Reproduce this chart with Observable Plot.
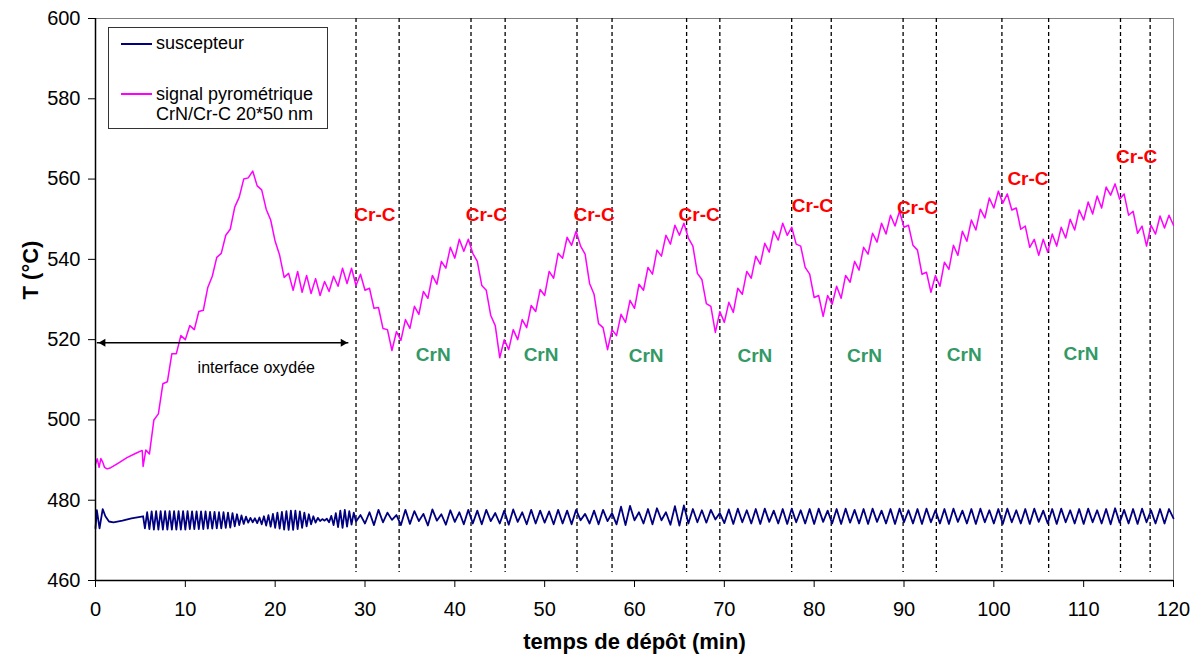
<!DOCTYPE html>
<html><head><meta charset="utf-8">
<script src="https://cdn.jsdelivr.net/npm/d3@7"></script>
<script src="https://cdn.jsdelivr.net/npm/@observablehq/plot@0.6"></script>
<style>
body{margin:0;background:#fff;font-family:"Liberation Sans",Arial,sans-serif;}
#wrap{position:relative;width:1197px;height:666px;}
#legend{position:absolute;left:108px;top:27px;width:220px;height:102px;border:1px solid #333;background:#fff;box-sizing:border-box;font-size:18px;color:#000;}
#legend .sw{position:absolute;left:12px;width:31px;height:2px;}
#legend .tx{position:absolute;left:47px;line-height:20px;white-space:nowrap;}
</style></head><body>
<div id="wrap">
  <div id="legend">
    <div class="sw" style="top:15px;background:#000080"></div>
    <div class="tx" style="top:5px">suscepteur</div>
    <div class="sw" style="top:65px;background:#ff00ff"></div>
    <div class="tx" style="top:56px">signal pyrométrique<br>CrN/Cr-C 20*50 nm</div>
  </div>
</div>
<script>
// ---- axes ----
const xTicks = [0,10,20,30,40,50,60,70,80,90,100,110,120];
const yTicks = [460,480,500,520,540,560,580,600];

// ---- pyrometer signal (°C) ----
const pyroStartT = [0,0.2,0.4,0.6,0.8,1.0,1.3,1.7,2.5,3.5,4.5,5.2,5.3,5.6];
const pyroStartV = [489,490.3,488.2,490.4,489.5,488.2,487.8,488.1,489.2,490.6,491.7,492.4,488.4,492.5];
// troughs at t = 6, 7, ..., 120
const pyroLo = [491.5,501.5,509.5,516.5,520,522.5,527.3,535.8,541.5,547.5,555.5,560.3,558.3,552.5,544.5,535.5,
  532.3,531.8,531.5,531,532,533.3,534,533.5,532.3,527.8,522.8,517.3,519.8,522.8,526.3,530.3,533.8,537.8,540.3,542,
  541.5,533.5,526,515.5,517.5,520,523,527,531,535.3,540.3,543.5,543.3,534,524,517.5,521,524.3,527.8,532.3,536.3,
  540.8,543.8,546,545.3,536.5,529,521.8,524.3,526.8,531.3,535.3,538.8,541.8,544.8,546,543.8,538,530.5,525.8,528.8,
  530.3,534.3,537.3,541.3,544.3,546.3,548.3,548,543.5,536.3,531.8,533.3,537.5,541,544.5,547.3,550.3,552.8,554,
  552.3,547.5,543,541,541.8,543.3,545.3,547.3,549.8,551.3,552.8,556,555,551,546.5,543.3,546.3,547.8,548.5];
// peaks at t = 6.5, 7.5, ..., 119.5
const pyroHi = [500,509,516.5,521,523.5,527,533,540.5,546,553,560,562,557.3,549.8,541,536.5,537,536,535.2,534.5,
  535.8,537.8,537.8,536.3,532.8,528,522.5,522,525,528.3,532,536,539.5,543,545,545,539.5,532.3,523.5,520,522.5,525,
  528.5,532.5,537,541.5,545.5,547,541.3,531.3,523,522.5,526.3,529.8,533.8,538,542.3,546,548.5,549,543.3,535,528.3,
  527,529.3,532.8,537,540.8,544,547,549,548,543.3,536.3,531,531,533.3,536,539.5,543,546.5,549,551,552,548.5,542.3,
  536.8,536,539.3,543.5,547,549.8,552.5,555.3,557,556.3,552.8,548.3,545,545,546.3,548,550,552.3,554.3,555.8,558,
  558.8,556.3,552,548.3,548.5,550.8,551];

// ---- susceptor (°C) ----
const suscStartT = [0,0.15,0.45,0.8,1.1,1.5,2,3,4,5.3];
const suscStartV = [473,477.5,473,477.8,476,474.7,474.5,474.9,475.5,476];
// troughs at t = 5.5, 6.0, ..., 28.5
const suscEarlyLo = [473,472.8,472.7,472.7,472.7,472.7,472.7,472.7,472.7,472.7,472.8,472.8,472.8,472.8,472.9,472.9,
  473,473,473.1,473.2,473.5,473.8,474.1,474.4,474.5,474.3,474,473.7,473.4,473.1,472.9,472.7,472.6,472.6,472.8,473.1,
  473.5,474,474.4,474.8,474.9,474.5,473.8,473.3,473.1,473.4,473.9];
// peaks at t = 5.75, 6.25, ..., 28.75
const suscEarlyHi = [477,477.2,477.3,477.3,477.3,477.3,477.3,477.3,477.3,477.3,477.2,477.2,477.2,477.2,477.1,477.1,
  477,477,476.9,476.8,476.5,476.2,475.9,475.6,475.5,475.7,476,476.3,476.6,476.9,477.1,477.3,477.4,477.4,477.2,476.9,
  476.5,476,475.6,475.3,475.4,476.1,476.8,477.4,477.6,477.3,476.9];
// troughs at t = 29, 30, ..., 120
const suscLateLo = [474.7,474.2,473.8,474.5,475.1,473.8,474.1,474.8,473.7,474.9,473.9,474.6,474,474.2,474,474.8,
  474.2,473.9,474.6,474,474.2,474.4,474,474.2,474,475,474.2,474,474.8,474,473.8,475,474.2,474,475,473.9,473.7,474.2,
  474.5,474.4,475.2,474.3,474.1,474.5,474.2,474.1,474.6,474.2,474.1,474.5,474.2,474.1,474.6,474.2,474.1,474.4,474.2,
  474.1,474.6,474.2,474.1,474.5,474.2,474.1,474.5,474.2,474.1,474.6,474.2,474.1,474.5,474.2,474.1,474.5,474.2,474.1,
  474.6,474.2,474.1,474.5,474.2,474.1,474.5,474.2,474,474.4,474.2,474.1,474.5,474.2,474.2,475.5];
// peaks at t = 29.5, 30.5, ..., 119.5
const suscLateHi = [476.3,477,477.6,476.9,476.3,477.6,477.3,476.6,477.7,476.5,477.5,477,477.6,477.4,477.6,476.8,
  477.4,477.7,477,477.6,477.4,477.2,477.6,477.4,477.6,476.6,477.4,477.6,476.8,478.4,478.6,477,477.8,478,477,478.5,
  478.7,477.8,477.5,477.6,476.8,477.7,477.9,477.5,477.8,477.9,477.4,477.8,477.9,477.5,477.8,477.9,477.4,477.8,477.9,
  477.6,477.8,477.9,477.4,477.8,477.9,477.5,477.8,477.9,477.5,477.8,477.9,477.4,477.8,477.9,477.5,477.8,477.9,477.5,
  477.8,477.9,477.4,477.8,477.9,477.5,477.8,477.9,477.5,477.8,478,477.6,477.8,477.9,477.5,477.8,477.8];

// ---- layer boundaries and annotations ----
const dividers = [29.0,33.8,41.8,45.6,53.6,57.5,65.8,69.5,77.5,81.9,89.9,93.6,100.9,106.1,114.1,117.4];
const dashTop = 600, dashBottom = 462;
const crcLabel = "Cr-C";
const crcT = [31.1,43.5,55.5,67.2,79.8,91.5,103.8,115.9];
const crcTemp = [551,551,551,551,553.3,552.8,560.1,565.6];
const crnLabel = "CrN";
const crnT = [37.6,49.6,61.3,73.4,85.6,96.7,109.7];
const crnTemp = [516.2,516.2,515.9,515.9,515.9,516.2,516.5];
const arrowStart = 0.2, arrowEnd = 28.2, arrowTemp = 519.2;
const arrowLabel = "interface oxydée", arrowLabelT = 17.9, arrowLabelTemp = 512.9;
const xTitle = "temps de dépôt (min)", yTitle = "T (°C)";

// ---- build tables ----
const pyroRows = pyroStartT.map((t,i)=>({t, v: pyroStartV[i]}));
pyroLo.forEach((v,i)=>{ pyroRows.push({t: 6+i, v}); if (i < pyroHi.length) pyroRows.push({t: 6.5+i, v: pyroHi[i]}); });
const suscRows = suscStartT.map((t,i)=>({t, v: suscStartV[i]}));
suscEarlyLo.forEach((v,i)=>{ suscRows.push({t: 5.5+0.5*i, v}); suscRows.push({t: 5.75+0.5*i, v: suscEarlyHi[i]}); });
suscLateLo.forEach((v,i)=>{ suscRows.push({t: 29+i, v}); if (i < suscLateHi.length) suscRows.push({t: 29.5+i, v: suscLateHi[i]}); });
const crc = crcT.map((t,i)=>({t, v: crcTemp[i]}));
const crn = crnT.map((t,i)=>({t, v: crnTemp[i]}));

const chart = Plot.plot({
  width: 1197, height: 666,
  marginLeft: 95, marginRight: 24, marginTop: 18, marginBottom: 86,
  style: {fontFamily: "'Liberation Sans', Arial, sans-serif", fontSize: "20px", color: "#000", background: "#fff", overflow: "visible"},
  x: {domain: [0,120]},
  y: {domain: [460,600]},
  marks: [
    Plot.frame({stroke: "#808080"}),
    Plot.axisX({ticks: xTicks, tickSize: 7, tickPadding: 14, label: null, fontSize: 20}),
    Plot.axisY({ticks: yTicks, tickSize: 7, tickPadding: 8, label: null, fontSize: 20}),
    Plot.ruleX(dividers, {y1: dashTop, y2: dashBottom, stroke: "#000", strokeWidth: 1.3, strokeDasharray: "4,3"}),
    Plot.line(suscRows, {x: "t", y: "v", stroke: "#000080", strokeWidth: 1.8}),
    Plot.line(pyroRows, {x: "t", y: "v", stroke: "#ff00ff", strokeWidth: 1.5}),
    Plot.ruleX([0], {stroke: "#000", strokeWidth: 1.5}),
    Plot.ruleY([460], {stroke: "#000", strokeWidth: 1.5}),
    Plot.ruleY([arrowTemp], {x1: arrowStart, x2: arrowEnd, stroke: "#000", strokeWidth: 1.5}),
    Plot.dot([arrowStart], {x: d=>d, y: ()=>arrowTemp, symbol: "triangle2", r: 3.8, fill: "#000", rotate: -90, dx: 5.8}),
    Plot.dot([arrowEnd], {x: d=>d, y: ()=>arrowTemp, symbol: "triangle2", r: 3.8, fill: "#000", rotate: 90, dx: -5.8}),
    Plot.text([arrowLabel], {x: ()=>arrowLabelT, y: ()=>arrowLabelTemp, fontSize: 16, fill: "#000"}),
    Plot.text(crc, {x: "t", y: "v", text: ()=>crcLabel, fill: "#ff0000", fontWeight: "bold", fontSize: 19}),
    Plot.text(crn, {x: "t", y: "v", text: ()=>crnLabel, fill: "#339966", fontWeight: "bold", fontSize: 19}),
    Plot.text([xTitle], {frameAnchor: "bottom", dy: 68, fontWeight: "bold", fontSize: 22}),
    Plot.text([yTitle], {frameAnchor: "left", dx: -65, rotate: -90, fontWeight: "bold", fontSize: 22})
  ]
});
document.getElementById("wrap").prepend(chart);
</script>
</body></html>
